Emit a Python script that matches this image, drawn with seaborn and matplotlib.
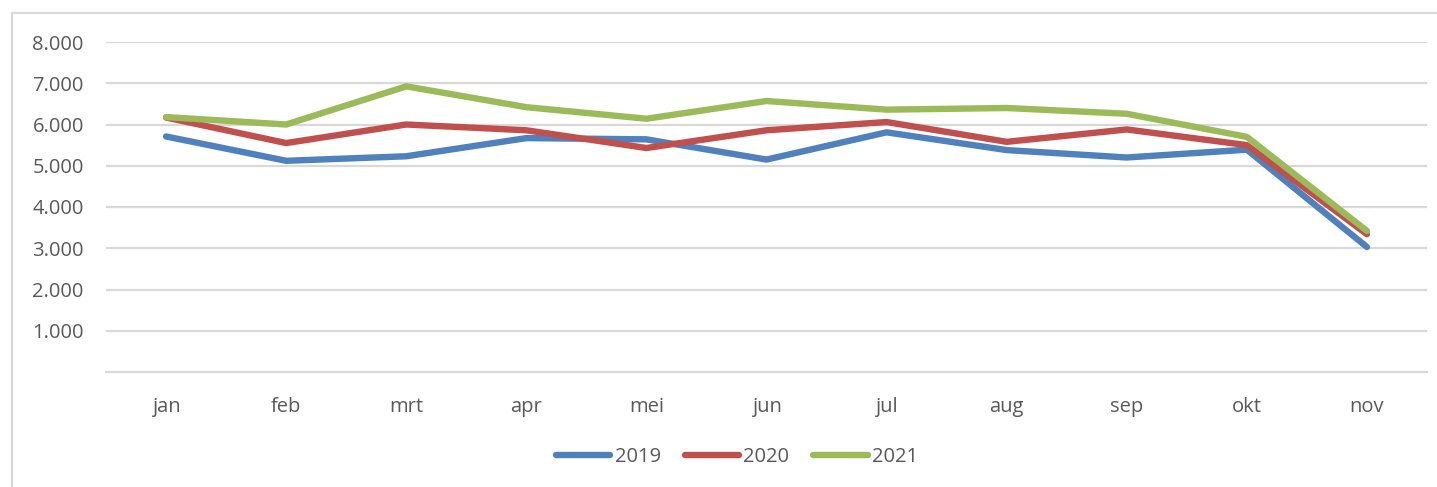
import pandas as pd
import seaborn as sns
import matplotlib.pyplot as plt
from matplotlib.patches import Rectangle
from matplotlib.ticker import FuncFormatter

months = ['jan', 'feb', 'mrt', 'apr', 'mei', 'jun', 'jul', 'aug', 'sep', 'okt', 'nov']
years = ['2019', '2020', '2021']
v2019 = [5710, 5120, 5230, 5670, 5640, 5150, 5810, 5380, 5200, 5390, 3030]
v2020 = [6170, 5550, 6000, 5860, 5430, 5860, 6060, 5580, 5880, 5500, 3340]
v2021 = [6180, 6000, 6925, 6420, 6140, 6570, 6360, 6400, 6260, 5700, 3420]

rows = []
for yr, vals in zip(years, [v2019, v2020, v2021]):
    for i, (m, v) in enumerate(zip(months, vals)):
        rows.append({'pos': i, 'month': m, 'year': yr, 'value': v})
df = pd.DataFrame(rows)

sns.set_theme(style='white')
plt.rcParams['font.family'] = ['Open Sans', 'DejaVu Sans']
txt = '#595959'

fig = plt.figure(figsize=(14.37, 4.87), dpi=100)
ax = fig.add_axes([106 / 1437, 1 - 372 / 487, 1321 / 1437, 330 / 487])

palette = {'2019': '#4F81BD', '2020': '#C0504D', '2021': '#9BBB59'}
sns.lineplot(data=df, x='pos', y='value', hue='year', palette=palette,
             linewidth=4.6, ax=ax, legend=True, solid_capstyle='round')

ax.set_xlim(-0.5, len(months) - 0.5)
ax.set_ylim(0, 8000)
ax.set_xticks(range(len(months)))
ax.set_xticklabels(months)
ax.set_yticks(range(1000, 8001, 1000))
ax.yaxis.set_major_formatter(FuncFormatter(lambda v, p: f'{int(v):,}'.replace(',', '.')))
ax.grid(axis='y', color='#D9D9D9', linewidth=1.6)
ax.set_axisbelow(True)
ax.tick_params(axis='both', length=0, labelsize=14.5, labelcolor=txt)
ax.tick_params(axis='y', pad=16)
ax.tick_params(axis='x', pad=18)
for s in ['top', 'right', 'left']:
    ax.spines[s].set_visible(False)
ax.spines['bottom'].set_color('#D9D9D9')
ax.spines['bottom'].set_linewidth(1.6)
ax.set_xlabel('')
ax.set_ylabel('')

handles, labels = ax.get_legend_handles_labels()
leg = ax.legend(handles, labels, loc='center', bbox_to_anchor=(737 / 1437, 1 - 457 / 487),
                bbox_transform=fig.transFigure, ncol=3, frameon=False, fontsize=14.5,
                handlelength=2.7, handletextpad=0.2, columnspacing=1.2)
for t in leg.get_texts():
    t.set_color(txt)
for h in leg.get_lines():
    h.set_linewidth(4.6)
    h.set_solid_capstyle('round')

fig.patches.append(Rectangle((12 / 1437, -0.1), 1.2, 1 - 13 / 487 + 0.1,
                             transform=fig.transFigure, fill=False,
                             edgecolor='#D9D9D9', linewidth=1.6))

fig.savefig('out.png', dpi=100, facecolor='white')
